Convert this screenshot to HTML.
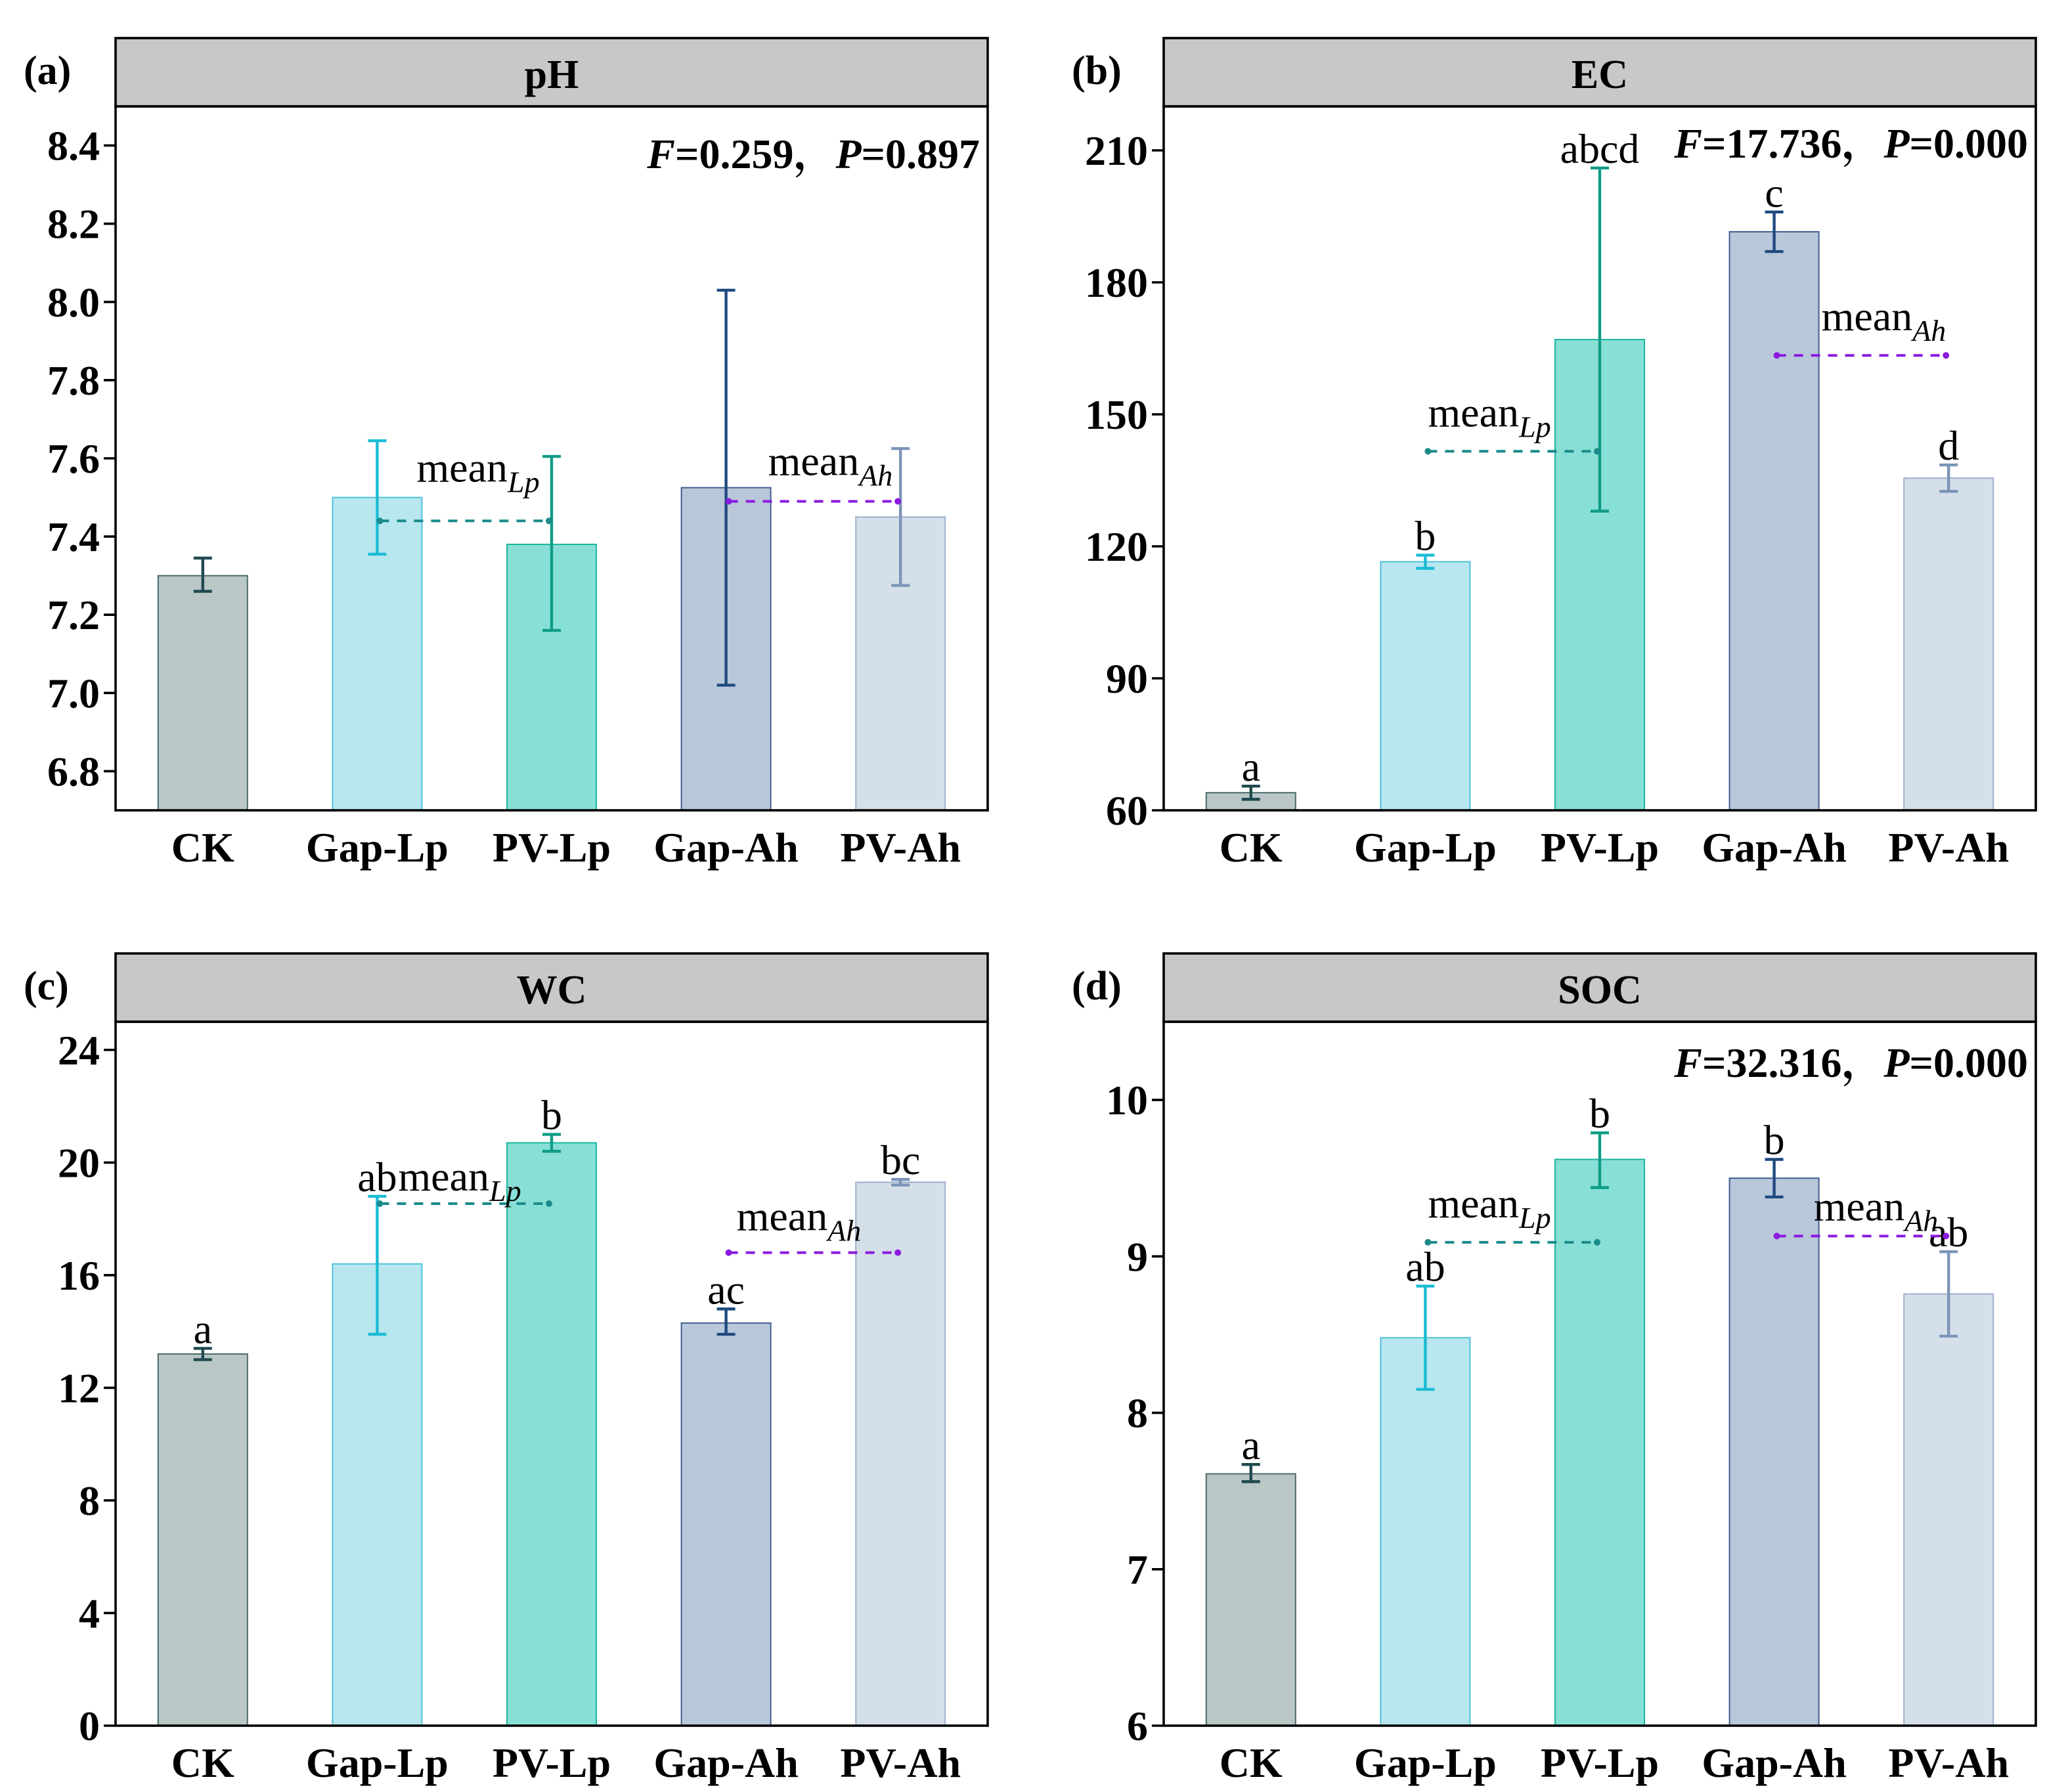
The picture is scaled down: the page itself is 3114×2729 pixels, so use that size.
<!DOCTYPE html>
<html><head><meta charset="utf-8"><style>
html,body{margin:0;padding:0;background:#fff}
svg{display:block}
text{font-family:"Liberation Serif","Noto Serif CJK SC",serif}
</style></head><body>
<svg id="fig" xmlns="http://www.w3.org/2000/svg" width="3114" height="2729" viewBox="0 0 1557 1364.5"></svg>
<script>
const categories = ["CK","Gap-Lp","PV-Lp","Gap-Ah","PV-Ah"];
const phMeans = [7.30,7.50,7.38,7.525,7.45];
const phLow = [7.26,7.355,7.16,7.02,7.275];
const phHigh = [7.345,7.645,7.605,8.03,7.625];
const phLetters = ["","","","",""];
const phMeanLines = [7.44,7.49];
const phTicks = [6.8,7.0,7.2,7.4,7.6,7.8,8.0,8.2,8.4];

const ecMeans = [64,116.5,167,191.5,135.5];
const ecLow = [62.5,115,128,187,132.5];
const ecHigh = [65.5,118,206,196,138.5];
const ecLetters = ["a","b","abcd","c","d"];
const ecMeanLines = [141.6,163.4];
const ecTicks = [60,90,120,150,180,210];

const wcMeans = [13.2,16.4,20.7,14.3,19.3];
const wcLow = [13.0,13.9,20.4,13.9,19.2];
const wcHigh = [13.4,18.8,21.0,14.8,19.4];
const wcLetters = ["a","ab","b","ac","bc"];
const wcMeanLines = [18.54,16.8];
const wcTicks = [0,4,8,12,16,20,24];

const socMeans = [7.61,8.48,9.62,9.50,8.76];
const socLow = [7.56,8.15,9.44,9.38,8.49];
const socHigh = [7.67,8.81,9.79,9.62,9.03];
const socLetters = ["a","ab","b","b","ab"];
const socMeanLines = [9.09,9.13];
const socTicks = [6,7,8,9,10];

const fills=["#b9c7c6","#b8e7f0","#88dfd6","#b8c7da","#d5dfe9"];
const strokes=["#4c6a6a","#4fc3d8","#19b69c","#3f5f8f","#9cb0cc"];
const errc=["#1f4a4f","#1bbcd4","#0e9c86","#1f4a80","#7b95b8"];
const NS="http://www.w3.org/2000/svg";
const svg=document.getElementById('fig');
function el(tag,attrs,parent,txt){const e=document.createElementNS(NS,tag);for(const k in attrs)e.setAttribute(k,attrs[k]);if(txt!==undefined)e.textContent=txt;(parent||svg).appendChild(e);return e;}

function panel(cfg){
  const g=el('g',{});
  
  
  const L=cfg.x0,R=cfg.x0+664,T=cfg.top,HB=T+52,B=cfg.bottom;
  const y=v=>B-(v-cfg.min)/(cfg.max-cfg.min)*(B-HB);
  const x=i=>L+66.4+132.8*i;
  const hd=el('rect',{x:L,y:T,width:664,height:52,fill:'#c8c8c8',stroke:'#000','stroke-width':1.8},g);
  
  
  const ht=el('text',{x:(L+R)/2,y:T+38,'text-anchor':'middle','font-size':31,'font-weight':'bold'},g,cfg.title);
  
  
  const pl=el('text',{x:L-70,y:T+35,'font-size':31,'font-weight':'bold'},g,cfg.label);
  
  
  cfg.means.forEach((m,i)=>{
    const b=el('rect',{x:x(i)-34,y:y(m),width:68,height:B-y(m),fill:fills[i],stroke:strokes[i],'stroke-width':1},g);
    
    
    const eg=el('g',{stroke:errc[i],'stroke-width':2.2},g);
    
    
    el('line',{x1:x(i),x2:x(i),y1:y(cfg.low[i]),y2:y(cfg.high[i])},eg);
    el('line',{x1:x(i)-7,x2:x(i)+7,y1:y(cfg.low[i]),y2:y(cfg.low[i])},eg);
    el('line',{x1:x(i)-7,x2:x(i)+7,y1:y(cfg.high[i]),y2:y(cfg.high[i])},eg);
    if(cfg.letters[i]){
      const lt=el('text',{x:x(i),y:y(cfg.high[i])-4,'text-anchor':'middle','font-size':32},g,cfg.letters[i]);
      
      
    }
  });
  [[1,2,'#1a8a8a','Lp'],[3,4,'#8a1adf','Ah']].forEach((d,k)=>{
    const yy=y(cfg.meanLines[k]);
    const x1=x(d[0])+2,x2=x(d[1])-2;
    const mg=el('g',{},g);
    
    
    el('line',{x1:x1,x2:x2,y1:yy,y2:yy,stroke:d[2],'stroke-width':2,'stroke-dasharray':'7,6'},mg);
    el('circle',{cx:x1,cy:yy,r:2.5,fill:d[2]},mg);
    el('circle',{cx:x2,cy:yy,r:2.5,fill:d[2]},mg);
    const off=cfg.meanLabelOff[k];
    const t=el('text',{x:x1+off[0],y:yy+off[1],'font-size':32},mg);
    
    
    el('tspan',{},t,'mean');
    el('tspan',{'font-size':23,'font-style':'italic',dy:8},t,d[3]);
  });
  const fr=el('rect',{x:L,y:HB,width:664,height:B-HB,fill:'none',stroke:'#000','stroke-width':1.8},g);
  
  
  const ya=el('g',{},g);
  
  
  cfg.ticks.forEach(t=>{
    el('line',{x1:L-9,x2:L,y1:y(t),y2:y(t),stroke:'#000','stroke-width':1.8},ya);
    el('text',{x:L-12,y:y(t)+11,'text-anchor':'end','font-size':32,'font-weight':'bold'},ya,cfg.fmt(t));
  });
  const xa=el('g',{},g);
  
  
  categories.forEach((c,i)=>{
    el('text',{x:x(i),y:B+39,'text-anchor':'middle','font-size':32,'font-weight':'bold'},xa,c);
  });
  if(cfg.stat){
    const st=el('text',{x:R-6,y:cfg.statY,'text-anchor':'end','font-size':32,'font-weight':'bold'},g);
    
    
    el('tspan',{'font-style':'italic'},st,'F');
    el('tspan',{},st,'='+cfg.stat[0]+'，');
    el('tspan',{'font-style':'italic'},st,'P');
    el('tspan',{},st,'='+cfg.stat[1]);
  }
}
panel({name:'ph',title:'pH',label:'(a)',x0:88,top:29,bottom:617,min:6.7,max:8.5,means:phMeans,low:phLow,high:phHigh,letters:phLetters,meanLines:phMeanLines,ticks:phTicks,fmt:t=>t.toFixed(1),stat:['0.259','0.897'],statY:128,meanLabelOff:[[28,-30],[30,-20]]});
panel({name:'ec',title:'EC',label:'(b)',x0:886,top:29,bottom:617,min:60,max:220,means:ecMeans,low:ecLow,high:ecHigh,letters:ecLetters,meanLines:ecMeanLines,ticks:ecTicks,fmt:t=>String(t),stat:['17.736','0.000'],statY:120,meanLabelOff:[[0,-19],[34,-19]]});
panel({name:'wc',title:'WC',label:'(c)',x0:88,top:726,bottom:1314,min:0,max:25,means:wcMeans,low:wcLow,high:wcHigh,letters:wcLetters,meanLines:wcMeanLines,ticks:wcTicks,fmt:t=>String(t),stat:null,meanLabelOff:[[14,-10],[6,-17]]});
panel({name:'soc',title:'SOC',label:'(d)',x0:886,top:726,bottom:1314,min:6,max:10.5,means:socMeans,low:socLow,high:socHigh,letters:socLetters,meanLines:socMeanLines,ticks:socTicks,fmt:t=>String(t),stat:['32.316','0.000'],statY:820,meanLabelOff:[[0,-19],[28,-12]]});
</script>
</body></html>
